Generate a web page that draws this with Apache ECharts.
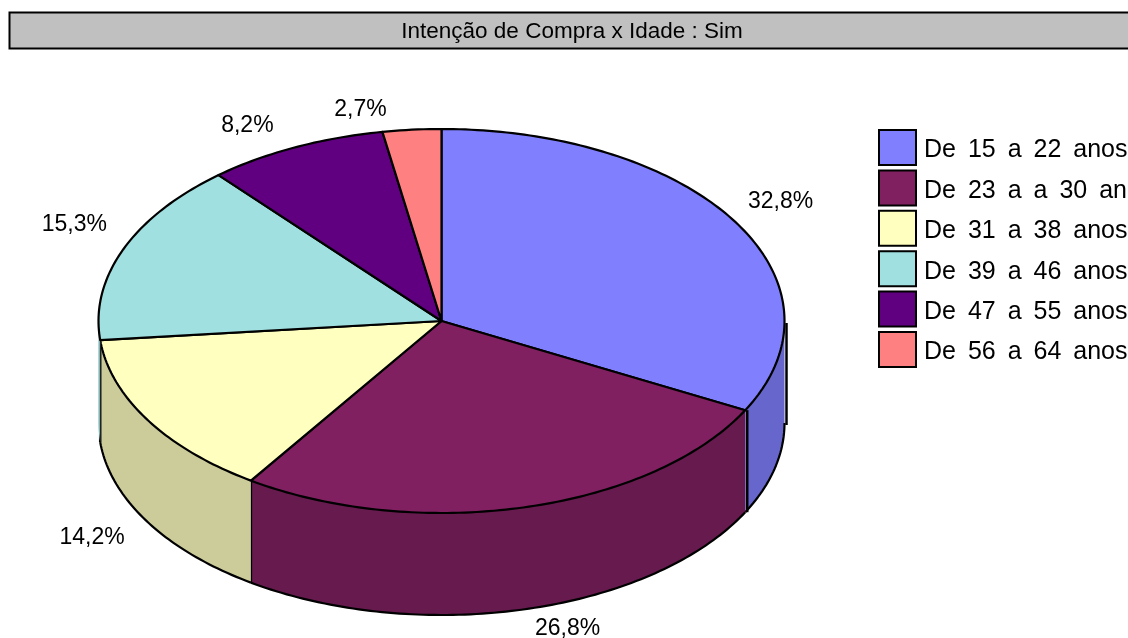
<!DOCTYPE html>
<html><head><meta charset="utf-8">
<style>html,body{margin:0;padding:0;background:#fff;overflow:hidden}#c{width:1128px;height:638px}</style>
<script src="https://cdn.jsdelivr.net/npm/echarts@6/dist/echarts.min.js"></script>
</head><body><div id="c"></div>
<script>
const categories = ['De 15 a 22 anos','De 23 a a 30 anos','De 31 a 38 anos','De 39 a 46 anos','De 47 a 55 anos','De 56 a 64 anos'];
const values = [32.8,26.8,14.2,15.3,8.2,2.7];
const topColors = ['#8080FF','#802060','#FFFFC0','#A0E0E0','#600080','#FF8080'];
const wallColors = ['#6666CC','#661A4D','#CCCC9A','#80B3B3','#4D0066','#CC6666'];
const titleText = 'Intenção de Compra x Idade : Sim';
// small drawing correction (degrees) of the reference's projection, at the end of each slice
const projectionTilt = [-0.4,-0.8,-1.4,-1.3,-0.2,0];

const total = values.reduce((a,b)=>a+b,0);
const CX=441.5, CY=321, RX=343, RY=192, DEPTH=102, DEG=Math.PI/180;
const rim=(t,d=0)=>[CX+RX*Math.sin(t*DEG), CY-RY*Math.cos(t*DEG)+d];
function arc(a,b,d=0){const pts=[];const n=Math.max(2,Math.ceil(Math.abs(b-a)));for(let i=0;i<=n;i++)pts.push(rim(a+(b-a)*i/n,d));return pts;}
const line=(pts,w=2.2)=>({type:'polyline',shape:{points:pts},style:{fill:null,stroke:'#000',lineWidth:w,lineJoin:'round'}});

function renderer(idx){
  return function(){
    let before=0; for(let i=0;i<idx;i++) before+=values[i];
    const a0=before/total*360, b0=(before+values[idx])/total*360;
    const a=a0+(idx?projectionTilt[idx-1]:0), b=b0+projectionTilt[idx];
    const kids=[];
    const fa=Math.max(a,90), fb=Math.min(b,270);
    if(fb>fa){
      const upper=arc(fa,fb), lower=arc(fb,fa,DEPTH);
      kids.push({type:'polygon',shape:{points:upper.concat(lower)},style:{fill:wallColors[idx],stroke:null}});
      if(idx!==3) kids.push(line(arc(fa,fb,DEPTH)));
      if(a<=90&&b>=90){const p=rim(90);kids.push(line([[p[0]+2,p[1]+2],[p[0]+2,p[1]+DEPTH+2]],2.5));}
      if(b<270){const p=rim(b),o=b<180?2:0;kids.push(line([[p[0]+o,p[1]],[p[0]+o,p[1]+DEPTH]],2.5));}
    }
    kids.push({type:'polygon',shape:{points:[[CX,CY]].concat(arc(a,b))},
      style:{fill:topColors[idx],stroke:'#000',lineWidth:2.2,lineJoin:'round'}});
    const m=(a0+b0)/2, low=m>90&&m<270;
    const p=rim(m,low?DEPTH:0);
    kids.push({type:'text',style:{
      text:values[idx].toFixed(1).replace('.',',')+'%',
      x:p[0]+(Math.sin(m*DEG)>0?45:-52),y:p[1]+(low?19:-20.5),
      align:'center',verticalAlign:'middle',
      font:'23px "Liberation Sans"',fill:'#000'}});
    return {type:'group',children:kids};
  };
}
const chart=echarts.init(document.getElementById('c'),null,{renderer:'canvas'});
chart.setOption({
  animation:false,
  backgroundColor:'#fff',
  title:{text:titleText,left:572,top:20,textAlign:'center',padding:0,
    textStyle:{fontFamily:'Liberation Sans',fontSize:22.5,fontWeight:'normal',color:'#000'}},
  graphic:[{type:'rect',z:-1,shape:{x:9.5,y:12.5,width:1130,height:36},style:{fill:'#C0C0C0',stroke:'#000',lineWidth:2}}],
  legend:{orient:'vertical',left:878,top:129,padding:0,itemWidth:37,itemHeight:35,itemGap:3.4,icon:'rect',
    data:categories,
    formatter:n=>'{a|'+n.replace(/ /g,' \u2009')+'}',
    itemStyle:{borderColor:'#000',borderWidth:2},
    textStyle:{fontFamily:'Liberation Sans',fontSize:25,color:'#000',
      rich:{a:{fontFamily:'Liberation Sans',fontSize:25,color:'#000',padding:[6,0,0,3]}}},
    selectedMode:false},
  series:categories.map((name,i)=>({
    type:'custom',name,coordinateSystem:'none',data:[values[i]],silent:true,clip:false,
    itemStyle:{color:topColors[i]},renderItem:renderer(i)}))
});
</script></body></html>
